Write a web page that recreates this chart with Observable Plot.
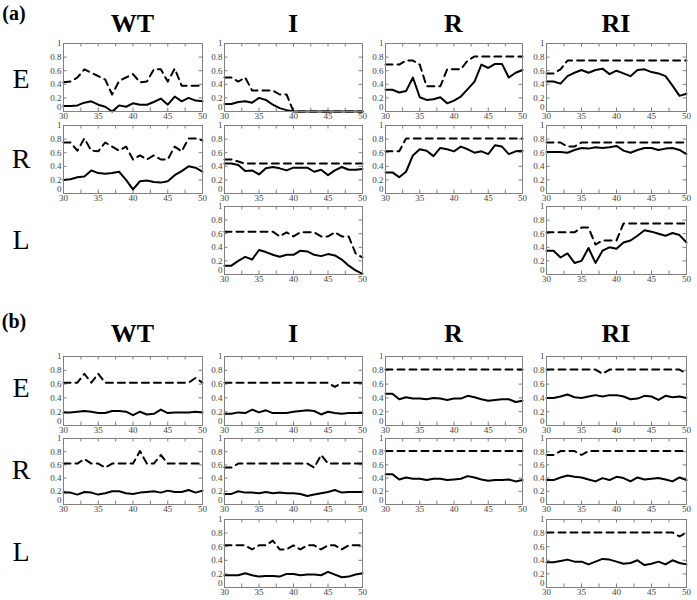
<!DOCTYPE html>
<html>
<head>
<meta charset="utf-8">
<script src="https://cdn.jsdelivr.net/npm/d3@7"></script>
<script src="https://cdn.jsdelivr.net/npm/@observablehq/plot@0.6"></script>
<style>
  body { margin: 0; background: #fff; }
  #root { position: relative; width: 697px; height: 600px; overflow: hidden; font-family: "Liberation Serif", "DejaVu Serif", serif; }
  .lbl { position: absolute; transform: translate(-50%, -50%); color: #000; white-space: nowrap; line-height: 1; }
  .sec { font-weight: bold; font-size: 20px; }
  .col { font-weight: bold; font-size: 26px; }
  .row { font-size: 28px; }
</style>
</head>
<body>
<div id="root"></div>
<script>
// ---------- data ----------
const xs = [30,31,32,33,34,35,36,37,38,39,40,41,42,43,44,45,46,47,48,49,50];
const xTickLabels = [30, 35, 40, 45, 50];
const xMinorTicks = [30, 32.5, 35, 37.5, 40, 42.5, 45, 47.5, 50];
const yTickLabels = [0.2, 0.4, 0.6, 0.8, 1];
const yZeroLabel = [0];
const yTicks = [0, 0.2, 0.4, 0.6, 0.8, 1];
const sections = ["(a)", "(b)"];
const columns = ["WT", "I", "R", "RI"];
const rows = ["E", "R", "L"];

// (a)
const aWT_E_solid = [0.08,0.08,0.09,0.13,0.15,0.10,0.07,0.00,0.09,0.07,0.12,0.10,0.10,0.14,0.19,0.10,0.22,0.15,0.20,0.16,0.15];
const aWT_E_dash  = [0.43,0.44,0.50,0.62,0.57,0.52,0.47,0.25,0.45,0.50,0.55,0.43,0.44,0.62,0.62,0.44,0.63,0.38,0.38,0.38,0.38];
const aI_E_solid  = [0.11,0.11,0.14,0.15,0.13,0.20,0.17,0.10,0.05,0.02,0.00,0,0,0,0,0,0,0,0,0,0];
const aI_E_dash   = [0.50,0.50,0.44,0.50,0.31,0.31,0.31,0.31,0.25,0.25,0.00,0,0,0,0,0,0,0,0,0,0];
const aR_E_solid  = [0.32,0.32,0.28,0.30,0.50,0.21,0.17,0.18,0.21,0.12,0.16,0.22,0.33,0.44,0.69,0.64,0.70,0.70,0.50,0.57,0.61];
const aR_E_dash   = [0.69,0.69,0.69,0.75,0.75,0.69,0.37,0.37,0.37,0.62,0.62,0.62,0.75,0.81,0.81,0.81,0.81,0.81,0.81,0.81,0.81];
const aRI_E_solid = [0.44,0.44,0.41,0.52,0.57,0.61,0.57,0.61,0.63,0.55,0.60,0.56,0.52,0.61,0.62,0.58,0.56,0.52,0.38,0.23,0.26];
const aRI_E_dash  = [0.56,0.56,0.62,0.75,0.75,0.75,0.75,0.75,0.75,0.75,0.75,0.75,0.75,0.75,0.75,0.75,0.75,0.75,0.75,0.75,0.75];
const aWT_R_solid = [0.20,0.21,0.24,0.25,0.34,0.30,0.29,0.30,0.32,0.20,0.06,0.18,0.19,0.17,0.16,0.18,0.27,0.33,0.40,0.38,0.32];
const aWT_R_dash  = [0.75,0.75,0.63,0.81,0.63,0.62,0.75,0.69,0.63,0.69,0.50,0.56,0.50,0.56,0.50,0.50,0.69,0.62,0.81,0.81,0.78];
const aI_R_solid  = [0.44,0.44,0.42,0.33,0.34,0.28,0.37,0.39,0.37,0.34,0.38,0.38,0.38,0.32,0.35,0.27,0.34,0.39,0.35,0.35,0.36];
const aI_R_dash   = [0.50,0.50,0.47,0.44,0.44,0.44,0.44,0.44,0.44,0.44,0.44,0.44,0.44,0.44,0.44,0.44,0.44,0.44,0.44,0.44,0.44];
const aR_R_solid  = [0.31,0.31,0.24,0.32,0.56,0.65,0.63,0.55,0.67,0.65,0.62,0.69,0.65,0.60,0.62,0.58,0.71,0.69,0.58,0.62,0.63];
const aR_R_dash   = [0.62,0.62,0.62,0.81,0.81,0.81,0.81,0.81,0.81,0.81,0.81,0.81,0.81,0.81,0.81,0.81,0.81,0.81,0.81,0.81,0.81];
const aRI_R_solid = [0.61,0.61,0.61,0.60,0.64,0.67,0.66,0.68,0.67,0.68,0.70,0.63,0.60,0.64,0.67,0.67,0.64,0.66,0.67,0.64,0.58];
const aRI_R_dash  = [0.75,0.75,0.75,0.69,0.69,0.75,0.75,0.75,0.75,0.75,0.75,0.75,0.75,0.75,0.75,0.75,0.75,0.75,0.75,0.75,0.75];
const aI_L_solid  = [0.13,0.13,0.20,0.26,0.22,0.36,0.33,0.29,0.26,0.29,0.29,0.35,0.34,0.29,0.27,0.30,0.28,0.22,0.13,0.06,0.01];
const aI_L_dash   = [0.63,0.63,0.63,0.63,0.63,0.63,0.63,0.63,0.56,0.62,0.56,0.62,0.62,0.62,0.56,0.56,0.62,0.56,0.56,0.31,0.25];
const aRI_L_solid = [0.35,0.35,0.25,0.31,0.17,0.20,0.39,0.17,0.35,0.40,0.38,0.47,0.50,0.57,0.65,0.63,0.60,0.57,0.61,0.58,0.47];
const aRI_L_dash  = [0.62,0.62,0.62,0.62,0.62,0.69,0.69,0.44,0.50,0.50,0.50,0.75,0.75,0.75,0.75,0.75,0.75,0.75,0.75,0.75,0.75];

// (b)
const bWT_E_solid = [0.19,0.19,0.20,0.21,0.20,0.18,0.18,0.21,0.21,0.20,0.15,0.20,0.16,0.17,0.23,0.18,0.19,0.19,0.19,0.20,0.19];
const bWT_E_dash  = [0.62,0.62,0.62,0.75,0.62,0.75,0.62,0.62,0.62,0.62,0.62,0.62,0.62,0.62,0.62,0.62,0.62,0.62,0.62,0.69,0.62];
const bI_E_solid  = [0.17,0.17,0.19,0.18,0.23,0.19,0.22,0.18,0.18,0.18,0.20,0.21,0.22,0.21,0.16,0.20,0.18,0.17,0.18,0.18,0.18];
const bI_E_dash   = [0.62,0.62,0.62,0.62,0.62,0.62,0.62,0.62,0.62,0.62,0.62,0.62,0.62,0.62,0.62,0.62,0.56,0.62,0.62,0.62,0.62];
const bR_E_solid  = [0.46,0.46,0.38,0.41,0.39,0.39,0.38,0.40,0.39,0.37,0.39,0.39,0.43,0.41,0.38,0.36,0.37,0.38,0.38,0.34,0.36];
const bR_E_dash   = [0.81,0.81,0.81,0.81,0.81,0.81,0.81,0.81,0.81,0.81,0.81,0.81,0.81,0.81,0.81,0.81,0.81,0.81,0.81,0.81,0.81];
const bRI_E_solid = [0.40,0.40,0.42,0.45,0.41,0.40,0.42,0.44,0.42,0.44,0.44,0.42,0.38,0.39,0.43,0.42,0.37,0.43,0.41,0.42,0.40];
const bRI_E_dash  = [0.81,0.81,0.81,0.81,0.81,0.81,0.81,0.81,0.75,0.81,0.81,0.81,0.81,0.81,0.81,0.81,0.81,0.81,0.81,0.81,0.75];
const bWT_R_solid = [0.18,0.18,0.15,0.19,0.18,0.15,0.17,0.20,0.20,0.17,0.16,0.18,0.19,0.20,0.18,0.21,0.19,0.19,0.22,0.18,0.21];
const bWT_R_dash  = [0.62,0.62,0.62,0.69,0.62,0.62,0.56,0.62,0.62,0.62,0.62,0.81,0.62,0.62,0.75,0.62,0.62,0.62,0.62,0.62,0.62];
const bI_R_solid  = [0.16,0.16,0.20,0.18,0.18,0.17,0.19,0.17,0.18,0.17,0.17,0.16,0.13,0.15,0.17,0.19,0.22,0.18,0.19,0.19,0.19];
const bI_R_dash   = [0.56,0.56,0.62,0.62,0.62,0.62,0.62,0.62,0.62,0.62,0.62,0.62,0.62,0.56,0.75,0.62,0.62,0.62,0.62,0.62,0.62];
const bR_R_solid  = [0.46,0.46,0.38,0.41,0.39,0.39,0.37,0.39,0.39,0.37,0.38,0.39,0.43,0.41,0.38,0.36,0.37,0.37,0.38,0.35,0.37];
const bR_R_dash   = [0.81,0.81,0.81,0.81,0.81,0.81,0.81,0.81,0.81,0.81,0.81,0.81,0.81,0.81,0.81,0.81,0.81,0.81,0.81,0.81,0.81];
const bRI_R_solid = [0.37,0.37,0.41,0.44,0.42,0.41,0.38,0.35,0.40,0.37,0.42,0.40,0.35,0.41,0.38,0.39,0.40,0.38,0.35,0.41,0.37];
const bRI_R_dash  = [0.75,0.75,0.81,0.81,0.81,0.75,0.81,0.81,0.81,0.81,0.81,0.81,0.81,0.81,0.81,0.81,0.81,0.81,0.81,0.81,0.81];
const bI_L_solid  = [0.18,0.18,0.18,0.21,0.18,0.16,0.17,0.17,0.16,0.20,0.20,0.18,0.19,0.19,0.18,0.23,0.19,0.15,0.16,0.19,0.21];
const bI_L_dash   = [0.62,0.62,0.62,0.62,0.56,0.62,0.62,0.69,0.56,0.56,0.62,0.56,0.62,0.62,0.56,0.62,0.62,0.56,0.62,0.62,0.62];
const bRI_L_solid = [0.37,0.37,0.39,0.41,0.38,0.38,0.34,0.38,0.42,0.41,0.38,0.35,0.36,0.40,0.33,0.35,0.38,0.34,0.40,0.36,0.34];
const bRI_L_dash  = [0.81,0.81,0.81,0.81,0.81,0.81,0.81,0.81,0.81,0.81,0.81,0.81,0.81,0.81,0.81,0.81,0.81,0.81,0.81,0.75,0.81];

// ---------- layout ----------
const root = document.getElementById("root");
const colLeft = [63, 224, 385, 546];
const colWidth = [139, 138, 137, 140];
const rowBox = [
  [[43, 68], [125, 68], [206, 68]],
  [[356, 69], [438, 66], [519, 68]]
];
const sectionLabelPos = [[14, 13], [14, 321]];
const colTitleY = [24, 334];
const rowLabelY = [[79, 159, 240], [388, 470, 552]];
const rowLabelX = 21;

function addLabel(text, cls, x, y) {
  const d = document.createElement("div");
  d.className = "lbl " + cls;
  d.textContent = text;
  d.style.left = x + "px";
  d.style.top = y + "px";
  root.appendChild(d);
}

const panels = [
  {s:0, c:0, r:0, solid:aWT_E_solid, dash:aWT_E_dash},
  {s:0, c:1, r:0, solid:aI_E_solid,  dash:aI_E_dash},
  {s:0, c:2, r:0, solid:aR_E_solid,  dash:aR_E_dash},
  {s:0, c:3, r:0, solid:aRI_E_solid, dash:aRI_E_dash},
  {s:0, c:0, r:1, solid:aWT_R_solid, dash:aWT_R_dash},
  {s:0, c:1, r:1, solid:aI_R_solid,  dash:aI_R_dash},
  {s:0, c:2, r:1, solid:aR_R_solid,  dash:aR_R_dash},
  {s:0, c:3, r:1, solid:aRI_R_solid, dash:aRI_R_dash},
  {s:0, c:1, r:2, solid:aI_L_solid,  dash:aI_L_dash},
  {s:0, c:3, r:2, solid:aRI_L_solid, dash:aRI_L_dash},
  {s:1, c:0, r:0, solid:bWT_E_solid, dash:bWT_E_dash},
  {s:1, c:1, r:0, solid:bI_E_solid,  dash:bI_E_dash},
  {s:1, c:2, r:0, solid:bR_E_solid,  dash:bR_E_dash},
  {s:1, c:3, r:0, solid:bRI_E_solid, dash:bRI_E_dash},
  {s:1, c:0, r:1, solid:bWT_R_solid, dash:bWT_R_dash},
  {s:1, c:1, r:1, solid:bI_R_solid,  dash:bI_R_dash},
  {s:1, c:2, r:1, solid:bR_R_solid,  dash:bR_R_dash},
  {s:1, c:3, r:1, solid:bRI_R_solid, dash:bRI_R_dash},
  {s:1, c:1, r:2, solid:bI_L_solid,  dash:bI_L_dash},
  {s:1, c:3, r:2, solid:bRI_L_solid, dash:bRI_L_dash}
];

const ml = 26, mr = 4, mt = 4, mb = 12;
const frameColor = "#808080";

for (const p of panels) {
  const w = colWidth[p.c];
  const [top, h] = rowBox[p.s][p.r];
  const data = xs.map((x, i) => ({x, s: p.solid[i], d: p.dash[i]}));
  const tx = 3.5 / h;          // inward tick length in y units
  const ty = 3.5 * 20 / w;     // inward tick length in x units
  const svg = Plot.plot({
    width: w + ml + mr,
    height: h + mt + mb,
    marginLeft: ml, marginRight: mr, marginTop: mt, marginBottom: mb,
    x: {domain: [30, 50], label: null},
    y: {domain: [0, 1], label: null},
    style: {fontFamily: "Liberation Serif, serif", fontSize: "9px", color: "#444", background: "transparent", overflow: "visible"},
    marks: [
      Plot.ruleX(xMinorTicks, {x: d => d, y1: 0, y2: tx, stroke: frameColor}),
      Plot.ruleX(xMinorTicks, {x: d => d, y1: 1, y2: 1 - tx, stroke: frameColor}),
      Plot.ruleY(yTicks, {y: d => d, x1: 30, x2: 30 + ty, stroke: frameColor}),
      Plot.ruleY(yTicks, {y: d => d, x1: 50, x2: 50 - ty, stroke: frameColor}),
      Plot.line(data, {x: "x", y: "d", stroke: "#000", strokeWidth: 2, strokeDasharray: "7,5"}),
      Plot.line(data, {x: "x", y: "s", stroke: "#000", strokeWidth: 2}),
      Plot.frame({stroke: frameColor}),
      Plot.axisX({ticks: xTickLabels, tickSize: 0, tickPadding: 1, label: null}),
      Plot.axisY({ticks: yTickLabels, tickSize: 0, tickPadding: 2, label: null, tickFormat: d3.format("~g")}),
      Plot.axisY({ticks: yZeroLabel, tickSize: 0, tickPadding: 2, label: null, dy: -4, tickFormat: d3.format("~g")})
    ]
  });
  svg.style.position = "absolute";
  svg.style.left = (colLeft[p.c] - ml) + "px";
  svg.style.top = (top - mt) + "px";
  root.appendChild(svg);
}

sections.forEach((t, s) => {
  addLabel(t, "sec", sectionLabelPos[s][0], sectionLabelPos[s][1]);
  columns.forEach((c, i) => addLabel(c, "col", colLeft[i] + colWidth[i] / 2, colTitleY[s]));
  rows.forEach((r, i) => addLabel(r, "row", rowLabelX, rowLabelY[s][i]));
});
</script>
</body>
</html>
